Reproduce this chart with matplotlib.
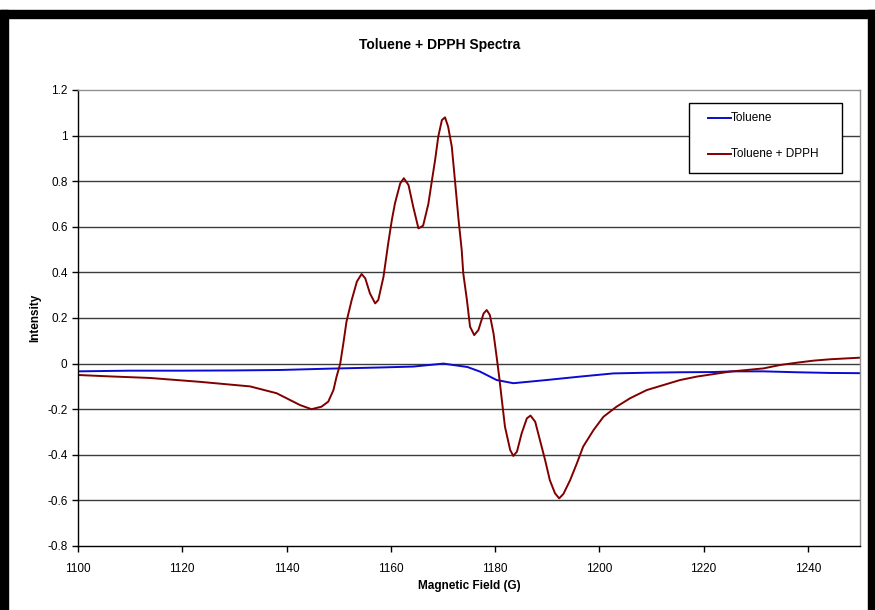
import matplotlib
matplotlib.use("Agg")
import matplotlib.pyplot as plt
from matplotlib.patches import Rectangle
from matplotlib.lines import Line2D

# values
dpph_field = [1100, 1106, 1113.8, 1123.4, 1133, 1138.1, 1140.7, 1142.6, 1144.8,
              1146.7, 1148.0, 1149.0, 1149.6, 1150.3, 1150.9, 1151.5, 1152.5,
              1153.5, 1154.4, 1155.1, 1156.0, 1157.0, 1157.6, 1158.6, 1159.5,
              1160.2, 1160.8, 1161.8, 1162.5, 1163.4, 1164.3, 1165.3, 1166.2,
              1167.2, 1167.9, 1168.5, 1169.1, 1169.8, 1170.4, 1171.0, 1171.7,
              1172.3, 1173.0, 1173.6, 1173.9, 1174.6, 1175.2, 1176.0, 1176.8,
              1177.8, 1178.4, 1179.0, 1179.7, 1180.3, 1180.8, 1181.3, 1181.9,
              1182.9, 1183.5, 1184.2, 1185.1, 1186.1, 1186.8, 1187.7, 1188.6,
              1189.6, 1190.5, 1191.5, 1192.3, 1193.1, 1194.4, 1195.7, 1196.9,
              1198.9, 1200.8, 1203.3, 1205.9, 1209.1, 1212.3, 1215.5, 1218.7,
              1221.9, 1225.1, 1228.3, 1231.5, 1234.7, 1237.9, 1241.1, 1244.3,
              1250]
dpph_int = [-0.05, -0.056, -0.063, -0.08, -0.10, -0.13, -0.16, -0.182, -0.20,
            -0.189, -0.167, -0.116, -0.057, 0.0, 0.089, 0.184, 0.279,
            0.36, 0.393, 0.374, 0.308, 0.264, 0.279, 0.381, 0.527,
            0.63, 0.703, 0.79, 0.813, 0.783, 0.688, 0.593, 0.605,
            0.70, 0.805, 0.893, 0.995, 1.068, 1.08, 1.039, 0.951,
            0.805, 0.63, 0.498, 0.396, 0.279, 0.162, 0.125, 0.147,
            0.22, 0.235, 0.213, 0.133, 0.03, -0.06, -0.16, -0.277,
            -0.379, -0.405, -0.386, -0.306, -0.24, -0.228, -0.255, -0.335,
            -0.423, -0.511, -0.569, -0.591, -0.572, -0.511, -0.437, -0.364,
            -0.291, -0.233, -0.189, -0.152, -0.116, -0.094, -0.072, -0.057,
            -0.046, -0.035, -0.028, -0.021, -0.006, 0.004, 0.013, 0.019,
            0.026]

tol_field = [1100, 1110, 1120, 1130, 1138.8, 1148.4, 1158, 1164.3, 1170.1,
             1174.7, 1177.1, 1180.3, 1183.5, 1189.9, 1196.3, 1202.7, 1209.1,
             1215.5, 1221.9, 1225.7, 1231.5, 1237.9, 1244.3, 1250]
tol_int = [-0.034, -0.031, -0.031, -0.03, -0.028, -0.022, -0.017, -0.013, 0.0,
           -0.015, -0.035, -0.072, -0.086, -0.072, -0.057, -0.043, -0.04,
           -0.038, -0.037, -0.034, -0.034, -0.038, -0.041, -0.042]

y_ticks = [-0.8, -0.6, -0.4, -0.2, 0, 0.2, 0.4, 0.6, 0.8, 1, 1.2]
y_labels = ['-0.8', '-0.6', '-0.4', '-0.2', '0', '0.2', '0.4', '0.6', '0.8', '1', '1.2']
x_ticks = [1100, 1120, 1140, 1160, 1180, 1200, 1220, 1240]

plt.rcParams['font.family'] = ['Liberation Sans', 'DejaVu Sans']

W, H = 875, 610
fig = plt.figure(figsize=(W / 100, H / 100), dpi=100)

def fx(px):
    return px / W

def fy(py):
    return 1 - py / H

# black frame around the chart area (top, left, right)
fig.patches.append(Rectangle((0, fy(18)), 1, 8 / H, transform=fig.transFigure,
                             color='black', zorder=0))
fig.patches.append(Rectangle((0, 0), fx(8), fy(10), transform=fig.transFigure,
                             color='black', zorder=0))
fig.patches.append(Rectangle((fx(868), 0), fx(7), fy(10), transform=fig.transFigure,
                             color='black', zorder=0))

ax = fig.add_axes([fx(78), fy(546), fx(860 - 78), (546 - 90) / H])

ax.plot(tol_field, tol_int, color='#0a0ad0', lw=1.4)
ax.plot(dpph_field, dpph_int, color='#800000', lw=1.4)

ax.set_xlim(1100, 1250)
ax.set_ylim(-0.8, 1.2)
ax.set_xticks(x_ticks)
ax.set_yticks(y_ticks)
ax.set_yticklabels(y_labels)

for y in y_ticks[1:-1]:
    ax.axhline(y, color='#3c3c3c', lw=1.0, zorder=0)

ax.spines['top'].set_color('#909090')
ax.spines['right'].set_color('#909090')
for s in ax.spines.values():
    s.set_linewidth(1.0)

ax.tick_params(axis='both', direction='out', length=4, width=1, labelsize=8.5,
               colors='black')
ax.tick_params(axis='x', pad=8)

ax.set_xlabel('Magnetic Field (G)', fontsize=8.5, fontweight='bold')
ax.set_ylabel('Intensity', fontsize=8.5, fontweight='bold')
ax.xaxis.set_label_coords(0.5, -(580 - 546) / 456, transform=ax.transAxes)
ax.yaxis.set_label_coords(-(78 - 41) / 782, 0.5, transform=ax.transAxes)

fig.text(fx(440), fy(45), 'Toluene + DPPH Spectra', ha='center', va='center',
         fontsize=10, fontweight='bold')

# legend box drawn by hand to match the spreadsheet look
fig.patches.append(Rectangle((fx(689), fy(173)), fx(842 - 689), (173 - 103) / H,
                             transform=fig.transFigure, facecolor='white',
                             edgecolor='black', lw=1.0, zorder=5))
for py, col, name in [(118, '#0a0ad0', 'Toluene'), (154, '#800000', 'Toluene + DPPH')]:
    fig.lines.append(Line2D([fx(708), fx(731)], [fy(py), fy(py)], color=col, lw=1.4,
                            transform=fig.transFigure, zorder=6))
    fig.text(fx(731), fy(py), name, ha='left', va='center', fontsize=8.5, zorder=6)

fig.savefig('out.png', dpi=100)
